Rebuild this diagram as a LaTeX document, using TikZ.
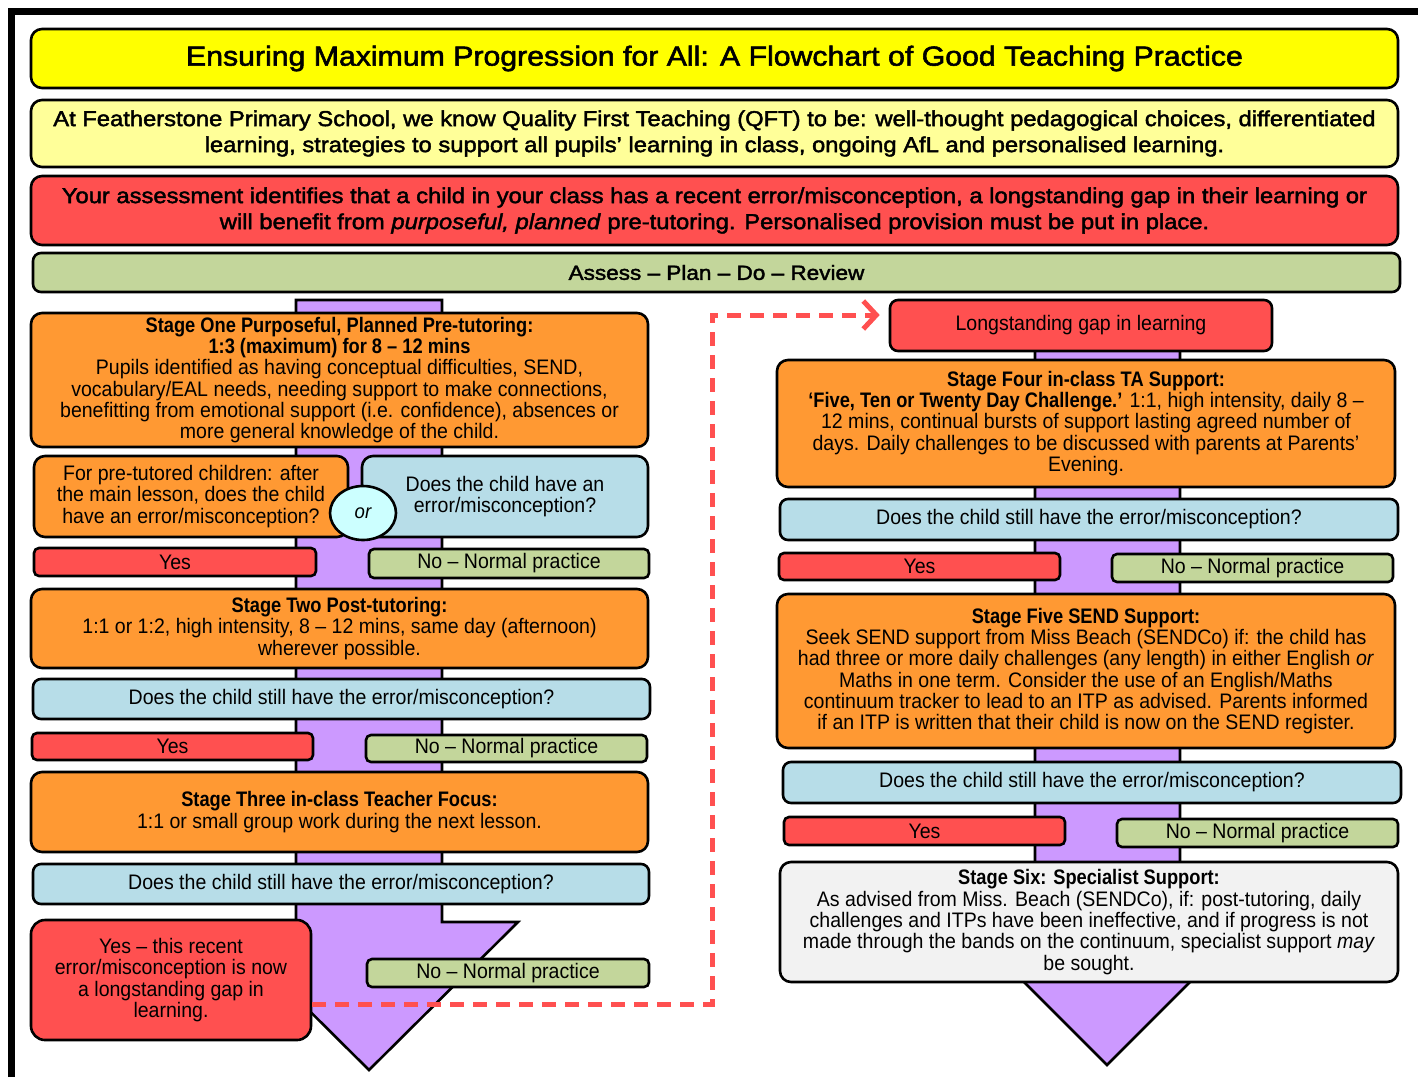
\documentclass[tikz,border=0pt]{standalone}
\usepackage{fontspec}
\setmainfont{Liberation Sans}
\newfontfamily\narrowfont[FakeStretch=0.93, BoldFeatures={FakeStretch=0.87}]{Liberation Sans}
\newfontfamily\headfont[FakeStretch=1.1, FakeBold=2]{Liberation Sans}
\usetikzlibrary{arrows.meta,shapes.geometric}

\definecolor{titleyellow}{HTML}{FFFF00}
\definecolor{qftyellow}{HTML}{FFFF99}
\definecolor{alertred}{HTML}{FF5050}
\definecolor{cyclegreen}{HTML}{C3D69B}
\definecolor{stageorange}{HTML}{FF9933}
\definecolor{askblue}{HTML}{B7DDE8}
\definecolor{flowpurple}{HTML}{CC99FF}
\definecolor{orcyan}{HTML}{CCFFFF}
\definecolor{specialgrey}{HTML}{F2F2F2}

\tikzset{
  box/.style={draw, line width=2.6pt, rounded corners=11pt, inner sep=0pt, align=center},
  banner/.style={box, font=\headfont\fontsize{21.6}{26}\selectfont},
  stagebox/.style={box, fill=stageorange, font=\narrowfont\fontsize{21}{21.3}\selectfont},
  askbox/.style={box, rounded corners=8pt, fill=askblue, font=\narrowfont\fontsize{21}{21.3}\selectfont},
  yesbox/.style={box, rounded corners=5pt, fill=alertred, font=\narrowfont\fontsize{21}{21.3}\selectfont},
  nobox/.style={box, rounded corners=5pt, fill=cyclegreen, font=\narrowfont\fontsize{21}{21.3}\selectfont},
  flowarrow/.style={draw, line width=2.6pt, fill=flowpurple, line join=miter},
  gapline/.style={draw=alertred, line width=5pt, dash pattern=on 14pt off 9pt,
    -{Straight Barb[length=13pt,width=28pt,line width=5pt]}}
}

\begin{document}
\begin{tikzpicture}[x=1pt, y=-1pt]
\useasboundingbox (0,0) rectangle (1418,1077);
\draw[line width=7pt] (11,1077) -- (11,11) -- (1418,11);

% the two purple flow arrows, behind the boxes
\draw[flowarrow] (296,300) -- (442,300) -- (442,922) -- (518,922) -- (369,1070) -- (220,922) -- (296,922) -- cycle;
\draw[flowarrow] (1035,345) -- (1180,345) -- (1180,916) -- (1256,916) -- (1107,1065) -- (958,916) -- (1035,916) -- cycle;

% headers
\node (title) [banner, fill=titleyellow, minimum width=1367, minimum height=59, font=\headfont\fontsize{27.5}{32}\selectfont] at (714.5,58.5)
  {Ensuring Maximum Progression for All: A Flowchart of Good Teaching Practice};
\node (qft) [banner, fill=qftyellow, minimum width=1367, minimum height=67] at (714.5,133.5)
  {At Featherstone Primary School, we know Quality First Teaching (QFT) to be: well-thought pedagogical choices, differentiated\\
   learning, strategies to support all pupils’ learning in class, ongoing AfL and personalised learning.};
\node (assess) [banner, fill=alertred, minimum width=1367, minimum height=69] at (714.5,210.5)
  {Your assessment identifies that a child in your class has a recent error/misconception, a longstanding gap in their learning or\\
   will benefit from \textit{purposeful, planned} pre-tutoring. Personalised provision must be put in place.};
\node (cycle) [banner, rounded corners=8pt, fill=cyclegreen, minimum width=1367, minimum height=39,
  font=\headfont\fontsize{20.5}{26}\selectfont] at (716.5,272.5)
  {Assess – Plan – Do – Review};

% left column
\node (stageone) [stagebox, minimum width=617, minimum height=134] at (339.5,380)
  {\textbf{Stage One Purposeful, Planned Pre-tutoring:}\\
   \textbf{1:3 (maximum) for 8 – 12 mins}\\
   Pupils identified as having conceptual difficulties, SEND,\\
   vocabulary/EAL needs, needing support to make connections,\\
   benefitting from emotional support (i.e. confidence), absences or\\
   more general knowledge of the child.};
\node (pretut) [stagebox, minimum width=314, minimum height=81] at (191,496.5)
  {For pre-tutored children: after\\ the main lesson, does the child\\ have an error/misconception?};
\node (askone) [askbox, rounded corners=11pt, minimum width=286, minimum height=81] at (505,496.5)
  {Does the child have an\\ error/misconception?};
\node (orsign) [ellipse, draw, line width=2.6pt, fill=orcyan, minimum width=66, minimum height=54,
  font=\narrowfont\fontsize{20}{24}\selectfont\itshape] at (363,513) {or};
\node (yesone) [yesbox, minimum width=282, minimum height=28] at (175,562) {Yes};
\node (noone) [nobox, minimum width=280, minimum height=29] at (509,563.5) {No – Normal practice};
\node (stagetwo) [stagebox, minimum width=617, minimum height=79] at (339.5,628.5)
  {\textbf{Stage Two Post-tutoring:}\\
   1:1 or 1:2, high intensity, 8 – 12 mins, same day (afternoon)\\
   wherever possible.};
\node (asktwo) [askbox, minimum width=617, minimum height=40] at (341.5,699)
  {Does the child still have the error/misconception?};
\node (yestwo) [yesbox, minimum width=281, minimum height=27] at (172.5,746.5) {Yes};
\node (notwo) [nobox, minimum width=281, minimum height=27] at (506.5,748.5) {No – Normal practice};
\node (stagethree) [stagebox, minimum width=617, minimum height=80] at (339.5,812)
  {\textbf{Stage Three in-class Teacher Focus:}\\
   1:1 or small group work during the next lesson.};
\node (askthree) [askbox, minimum width=616, minimum height=40] at (341,884)
  {Does the child still have the error/misconception?};
\node (gapyes) [yesbox, rounded corners=14pt, minimum width=280, minimum height=120] at (171,980)
  {Yes – this recent\\ error/misconception is now\\ a longstanding gap in\\ learning.};
\node (nothree) [nobox, minimum width=282, minimum height=28] at (508,973) {No – Normal practice};

% right column
\node (gap) [yesbox, rounded corners=8pt, minimum width=382, minimum height=51] at (1081,325.5)
  {Longstanding gap in learning};
\node (stagefour) [stagebox, minimum width=618, minimum height=127] at (1086,423.5)
  {\textbf{Stage Four in-class TA Support:}\\
   \textbf{‘Five, Ten or Twenty Day Challenge.’} 1:1, high intensity, daily 8 –\\
   12 mins, continual bursts of support lasting agreed number of\\
   days. Daily challenges to be discussed with parents at Parents’\\
   Evening.};
\node (askfour) [askbox, minimum width=618, minimum height=41] at (1089,519.5)
  {Does the child still have the error/misconception?};
\node (yesfour) [yesbox, minimum width=281, minimum height=27] at (919.5,566.5) {Yes};
\node (nofour) [nobox, minimum width=281, minimum height=28] at (1252.5,568) {No – Normal practice};
\node (stagefive) [stagebox, minimum width=618, minimum height=154] at (1086,671)
  {\textbf{Stage Five SEND Support:}\\
   Seek SEND support from Miss Beach (SENDCo) if: the child has\\
   had three or more daily challenges (any length) in either English \textit{or}\\
   Maths in one term. Consider the use of an English/Maths\\
   continuum tracker to lead to an ITP as advised. Parents informed\\
   if an ITP is written that their child is now on the SEND register.};
\node (askfive) [askbox, minimum width=618, minimum height=41] at (1092,782.5)
  {Does the child still have the error/misconception?};
\node (yesfive) [yesbox, minimum width=281, minimum height=28] at (924.5,831) {Yes};
\node (nofive) [nobox, minimum width=281, minimum height=28] at (1257.5,833) {No – Normal practice};
\node (stagesix) [stagebox, fill=specialgrey, minimum width=618, minimum height=120] at (1089,922)
  {\textbf{Stage Six: Specialist Support:}\\
   As advised from Miss. Beach (SENDCo), if: post-tutoring, daily\\
   challenges and ITPs have been ineffective, and if progress is not\\
   made through the bands on the continuum, specialist support \textit{may}\\
   be sought.};

% dashed link to the longstanding gap
\coordinate (bend) at (712,315);
\draw[gapline] ([yshift=-24pt]gapyes.east) -| (bend) -- ([xshift=-9pt,yshift=10.5pt]gap.west);
\end{tikzpicture}
\end{document}
